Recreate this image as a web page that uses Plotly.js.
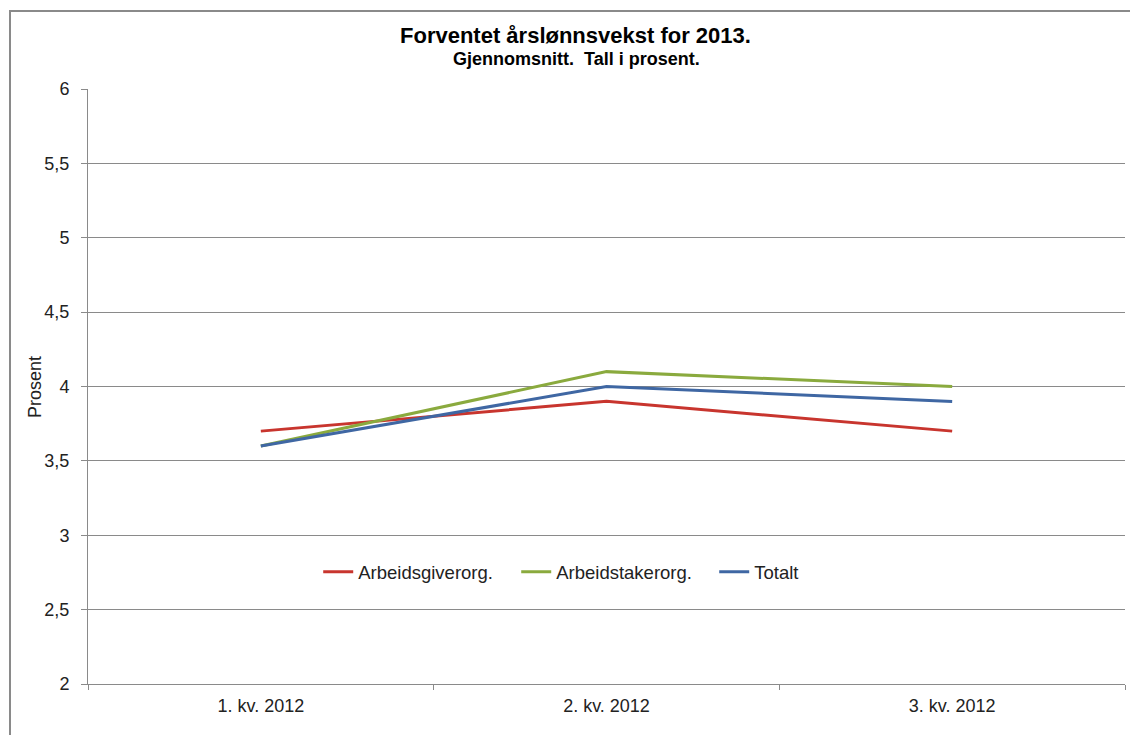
<!DOCTYPE html>
<html>
<head>
<meta charset="utf-8">
<script src="https://cdn.plot.ly/plotly-3.0.1.min.js"></script>
<style>
html,body{margin:0;padding:0;background:#fff;overflow:hidden;}
#chart{width:1130px;height:735px;}
</style>
</head>
<body>
<div id="chart"></div>
<script>
const categories = ["1. kv. 2012", "2. kv. 2012", "3. kv. 2012"];
const arbeidsgiver = [3.7, 3.9, 3.7];
const arbeidstaker = [3.6, 4.1, 4.0];
const totalt = [3.6, 4.0, 3.9];
const seriesNames = ["Arbeidsgiverorg.", "Arbeidstakerorg.", "Totalt"];
const yTicks = [2, 2.5, 3, 3.5, 4, 4.5, 5, 5.5, 6];
const yTickLabels = ["2", "2,5", "3", "3,5", "4", "4,5", "5", "5,5", "6"];

const colors = ["#C8352E", "#8AAA3E", "#3F67A3"];
const seriesData = [arbeidsgiver, arbeidstaker, totalt];

const traces = seriesData.map((vals, i) => ({
  type: "scatter",
  mode: "lines",
  x: categories,
  y: vals,
  name: seriesNames[i],
  line: {color: colors[i], width: 3}
}));

const font = {family: "Liberation Sans, Arial, sans-serif", size: 18, color: "#222"};
const gray = "#8a8a8a";

const layout = {
  width: 1130,
  height: 735,
  margin: {l: 88, r: 5, t: 89, b: 51},
  paper_bgcolor: "#fff",
  plot_bgcolor: "#fff",
  font: font,
  showlegend: true,
  legend: {
    orientation: "h",
    x: 0.222, xanchor: "left",
    y: 0.188, yanchor: "middle",
    font: {family: "Liberation Sans, Arial, sans-serif", size: 18.5, color: "#222"},
    entrywidth: 153,
    bgcolor: "rgba(0,0,0,0)"
  },
  xaxis: {
    type: "category",
    range: [-0.5, 2.5],
    tickson: "boundaries",
    ticks: "outside",
    ticklen: 5,
    tickcolor: gray,
    ticklabelstandoff: 5,
    showline: true,
    linecolor: gray,
    linewidth: 1,
    showgrid: false,
    zeroline: false,
    tickfont: font,
    fixedrange: true
  },
  yaxis: {
    range: [2, 6],
    tickvals: yTicks,
    ticktext: yTickLabels,
    ticks: "outside",
    ticklen: 6,
    tickcolor: gray,
    ticklabelstandoff: 8,
    showline: true,
    linecolor: gray,
    linewidth: 1,
    showgrid: true,
    gridcolor: gray,
    gridwidth: 1,
    zeroline: false,
    tickfont: font,
    fixedrange: true
  },
  annotations: [
    {text: "<b>Forventet årslønnsvekst for 2013.</b>", xref: "paper", yref: "paper",
     x: (575 - 88) / 1037, y: (684 - 35) / 595, xanchor: "center", yanchor: "middle",
     showarrow: false, font: {family: "Liberation Sans, Arial, sans-serif", size: 22, color: "#000"}},
    {text: "<b>Gjennomsnitt.\u00a0 Tall i prosent.</b>", xref: "paper", yref: "paper",
     x: (576 - 88) / 1037, y: (684 - 59) / 595, xanchor: "center", yanchor: "middle",
     showarrow: false, font: {family: "Liberation Sans, Arial, sans-serif", size: 18, color: "#000"}},
    {text: "Prosent", xref: "paper", yref: "paper",
     x: (35 - 88) / 1037, y: (684 - 387) / 595, xanchor: "center", yanchor: "middle",
     textangle: -90, showarrow: false, font: font}
  ],
  shapes: [
    {type: "path", xref: "paper", yref: "paper",
     path: "M " + ((10 - 88) / 1037) + "," + (-0.2) + " L " + ((10 - 88) / 1037) + "," + ((684 - 11) / 595) +
           " L " + ((1140 - 88) / 1037) + "," + ((684 - 11) / 595),
     line: {color: gray, width: 2}}
  ]
};

Plotly.newPlot("chart", traces, layout, {displayModeBar: false, staticPlot: true});
</script>
</body>
</html>
